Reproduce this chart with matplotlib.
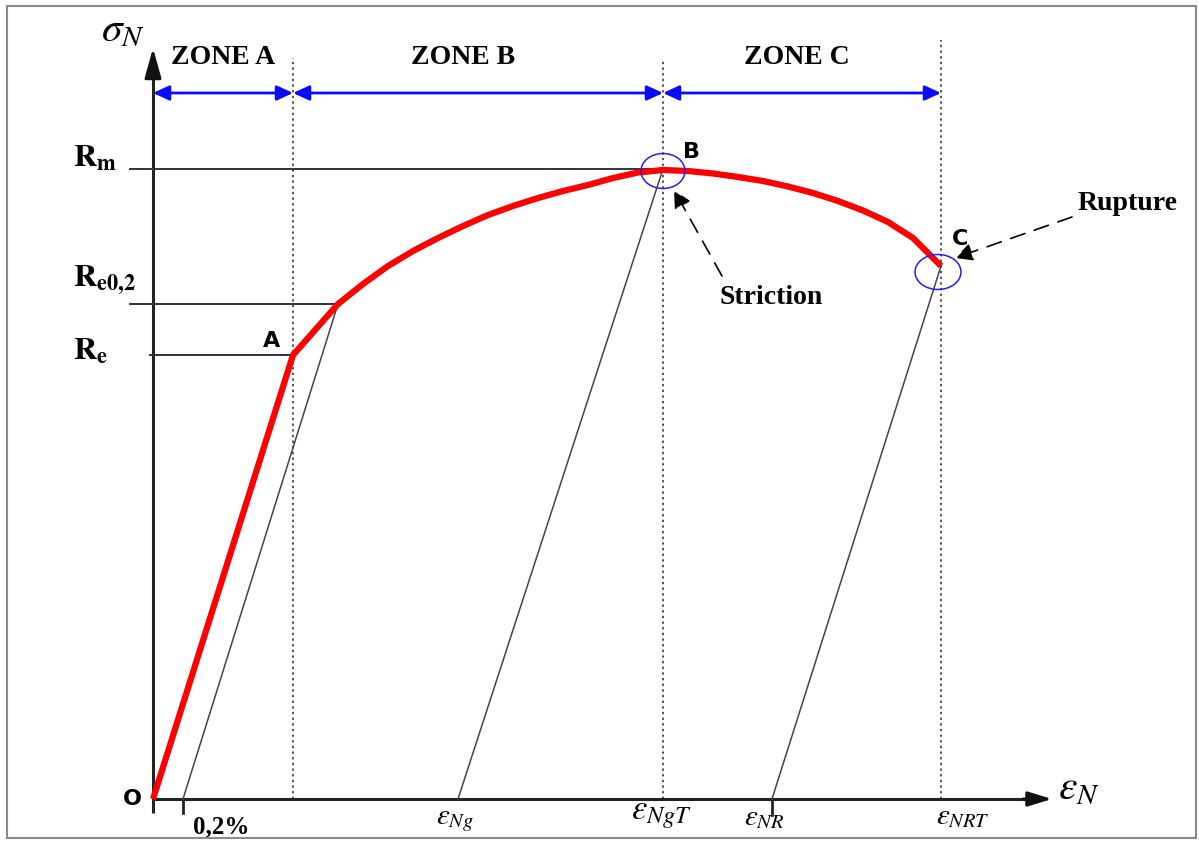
import matplotlib
matplotlib.use("Agg")
import matplotlib.pyplot as plt
from matplotlib.patches import Ellipse, Rectangle

plt.rcParams['mathtext.fontset'] = 'stix'

# ---- data (schematic units: strain eps, stress sigma) ----
eps_A = 1.40          # end of elastic zone (Re)
Re = 4.44
eps_off = 0.30        # 0.2 % offset
eps_e02 = 1.85
Re02 = 4.95
eps_B = 5.10          # max stress (Rm)
Rm = 6.30
eps_C = 7.88          # rupture
sig_C = 5.33
eps_Ng = 3.05
eps_NR = 6.19

curve_eps = [0.0, 1.40, 1.85, 2.10, 2.35, 2.60, 2.85, 3.10, 3.35, 3.60, 3.85, 4.10,
             4.35, 4.60, 4.85, 5.10, 5.35, 5.60, 5.85, 6.10, 6.35, 6.60, 6.85,
             7.10, 7.35, 7.60, 7.88]
curve_sig = [0.0, 4.44, 4.95, 5.15, 5.33, 5.48, 5.61, 5.73, 5.84, 5.93, 6.01, 6.08,
             6.14, 6.21, 6.265, 6.29, 6.28, 6.255, 6.22, 6.18, 6.125, 6.06, 5.98,
             5.885, 5.77, 5.61, 5.33]

zone_bounds = [0.0, eps_A, eps_B, eps_C]
zone_labels = ["ZONE A", "ZONE B", "ZONE C"]
zone_y = 7.06

fig = plt.figure(figsize=(11.99, 8.41), dpi=100)
ax = fig.add_axes([0, 0, 1, 1])
ax.set_xlim(-1.53, 10.46)
ax.set_ylim(-0.42, 7.99)
ax.axis('off')

# frame
fig.add_artist(Rectangle((7/1199, 3/841), 1189/1199, 832/841, transform=fig.transFigure,
                         fill=False, edgecolor='#8a8a8a', lw=1.5))

# axes with arrows
ax.plot([0, 0], [-0.14, 7.3], color='#222222', lw=2.2, solid_capstyle='butt')
ax.annotate('', xy=(0, 7.51), xytext=(0, 7.2),
            arrowprops=dict(arrowstyle='-|>,head_length=0.9,head_width=0.25',
                            mutation_scale=20, color='#111111', lw=2.2,
                            shrinkA=0, shrinkB=0))
ax.plot([0, 8.8], [0, 0], color='#222222', lw=2.2, solid_capstyle='butt')
ax.annotate('', xy=(8.99, 0), xytext=(8.7, 0),
            arrowprops=dict(arrowstyle='-|>,head_length=0.72,head_width=0.22',
                            mutation_scale=20, color='#111111', lw=2.2,
                            shrinkA=0, shrinkB=0))

# ticks below axis
ax.plot([eps_off, eps_off], [0, -0.14], color='#222222', lw=2)
ax.plot([eps_NR, eps_NR], [0, -0.16], color='#222222', lw=2)

# dotted verticals
for x, top in [(eps_A, 7.41), (eps_B, 7.39), (eps_C, 7.59)]:
    ax.plot([x, x], [0, top], color='#222222', lw=1.1, linestyle=(0, (1.5, 2.2)))

# horizontal reference lines
ax.plot([-0.23, eps_B], [Rm, Rm], color='#333333', lw=1.4)
ax.plot([-0.23, eps_e02], [Re02, Re02], color='#333333', lw=1.4)
ax.plot([-0.03, eps_A], [Re, Re], color='#333333', lw=1.4)

# unloading lines
ax.plot([eps_off, eps_e02], [0, Re02], color='#444444', lw=1.1)
ax.plot([eps_Ng, eps_B], [0, Rm], color='#444444', lw=1.1)
ax.plot([eps_NR, eps_C], [0, sig_C], color='#444444', lw=1.1)

# red curve
ax.plot(curve_eps, curve_sig, color='#ff0000', lw=4.5, solid_joinstyle='round',
        solid_capstyle='butt', zorder=5)

# ellipses
ax.add_patch(Ellipse((eps_B, 6.28), 0.44, 0.35, fill=False, edgecolor='#2020ff', lw=1.1, zorder=6))
ax.add_patch(Ellipse((7.85, 5.27), 0.46, 0.35, fill=False, edgecolor='#2020ff', lw=1.1, zorder=6))

# zone arrows
for i in range(3):
    ax.annotate('', xy=(zone_bounds[i+1], zone_y), xytext=(zone_bounds[i], zone_y),
                arrowprops=dict(arrowstyle='<|-|>,head_length=0.65,head_width=0.3',
                                mutation_scale=15, color='#0a0aff', lw=2,
                                shrinkA=0, shrinkB=0))
zone_x = [0.70, 3.10, 6.44]
for x, lab in zip(zone_x, zone_labels):
    ax.text(x, 7.41, lab, ha='center', va='center', fontsize=20,
            family='Liberation Serif', weight='bold')

# axis labels
ax.text(-0.52, 7.59, r'$\sigma_N$', fontsize=30, ha='left', va='baseline')
ax.text(9.05, 0.01, r'$\varepsilon_N$', fontsize=30, ha='left', va='baseline')

# strain labels
ax.text(2.83, -0.25, r'$\varepsilon_{Ng}$', fontsize=21, ha='left', va='baseline')
ax.text(4.78, -0.20, r'$\varepsilon_{NgT}$', fontsize=25, ha='left', va='baseline')
ax.text(5.91, -0.26, r'$\varepsilon_{NR}$', fontsize=21, ha='left', va='baseline')
ax.text(7.83, -0.25, r'$\varepsilon_{NRT}$', fontsize=21, ha='left', va='baseline')
ax.text(0.40, -0.34, '0,2%', fontsize=18, family='Liberation Serif', weight='bold',
        ha='left', va='baseline')

# stress labels
ax.text(-0.80, 6.32, r'$\mathbf{R}_{\mathbf{m}}$', fontsize=23, ha='left', va='baseline')
ax.text(-0.80, 5.12, r'$\mathbf{R}_{\mathbf{e0{,}2}}$', fontsize=23, ha='left', va='baseline')
ax.text(-0.80, 4.39, r'$\mathbf{R}_{\mathbf{e}}$', fontsize=23, ha='left', va='baseline')

# point labels
ax.text(-0.21, 0.0, 'O', fontsize=16, family='DejaVu Sans', weight='heavy', ha='center', va='center')
ax.text(1.19, 4.58, 'A', fontsize=16, family='DejaVu Sans', weight='heavy', ha='center', va='center')
ax.text(5.39, 6.47, 'B', fontsize=16, family='DejaVu Sans', weight='heavy', ha='center', va='center')
ax.text(8.07, 5.60, 'C', fontsize=16, family='DejaVu Sans', weight='heavy', ha='center', va='center')

# annotations
ax.text(6.18, 5.01, 'Striction', fontsize=20, family='Liberation Serif', weight='bold',
        ha='center', va='center')
ax.annotate('', xy=(5.21, 6.09), xytext=(5.69, 5.23),
            arrowprops=dict(arrowstyle='-|>,head_length=0.6,head_width=0.3',
                            mutation_scale=18, color='black', lw=1.2,
                            linestyle=(0, (9, 6)), shrinkA=0, shrinkB=0))
ax.text(9.75, 5.96, 'Rupture', fontsize=20, family='Liberation Serif', weight='bold',
        ha='center', va='center')
ax.annotate('', xy=(8.02, 5.41), xytext=(9.19, 5.82),
            arrowprops=dict(arrowstyle='-|>,head_length=0.6,head_width=0.3',
                            mutation_scale=18, color='black', lw=1.2,
                            linestyle=(0, (9, 6)), shrinkA=0, shrinkB=0))

fig.savefig('out.png', dpi=100)
